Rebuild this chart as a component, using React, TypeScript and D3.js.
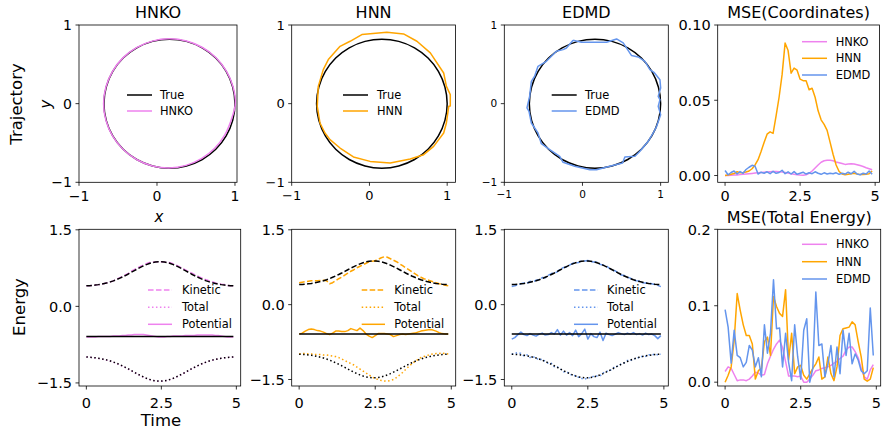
import React from "react";
import * as d3 from "d3";

// ---------------- DATA ----------------
const TIME = [0, 0.1, 0.2, 0.3, 0.4, 0.5, 0.6, 0.7, 0.8, 0.9, 1, 1.1, 1.2, 1.3, 1.4, 1.5, 1.6, 1.7, 1.8, 1.9, 2, 2.1, 2.2, 2.3, 2.4, 2.5, 2.6, 2.7, 2.8, 2.9, 3, 3.1, 3.2, 3.3, 3.4, 3.5, 3.6, 3.7, 3.8, 3.9, 4, 4.1, 4.2, 4.3, 4.4, 4.5, 4.6, 4.7, 4.8, 4.9];

const METHODS = ["HNKO", "HNN", "EDMD"];
const ENERGY_LABELS = ["Kinetic", "Total", "Potential"];
const TRAJ_TICKS = [-1, 0, 1];
const ENERGY_TICKS = [-1.5, 0, 1.5];
const TIME_TICKS = [0, 2.5, 5];
const MSE_COORD_TICKS = [0, 0.05, 0.1];
const MSE_ENERGY_TICKS = [0, 0.1, 0.2];

// Trajectories (x, y)
const TRUE_X = [1.0, 0.971, 0.887, 0.754, 0.58, 0.377, 0.16, -0.057, -0.26, -0.434, -0.567, -0.651, -0.68, -0.651, -0.567, -0.434, -0.26, -0.057, 0.16, 0.377, 0.58, 0.754, 0.887, 0.971];
const TRUE_Y = [0, 0.212, 0.41, 0.58, 0.71, 0.792, 0.82, 0.792, 0.71, 0.58, 0.41, 0.212, 0, -0.212, -0.41, -0.58, -0.71, -0.792, -0.82, -0.792, -0.71, -0.58, -0.41, -0.212];

const HNKO_X = [1.005, 0.975, 0.89, 0.757, 0.583, 0.378, 0.158, -0.06, -0.263, -0.437, -0.57, -0.655, -0.685, -0.655, -0.57, -0.436, -0.262, -0.058, 0.158, 0.372, 0.57, 0.74, 0.868, 0.952];
const HNKO_Y = [0, 0.214, 0.413, 0.584, 0.714, 0.796, 0.824, 0.795, 0.713, 0.582, 0.411, 0.212, 0, -0.212, -0.41, -0.58, -0.71, -0.792, -0.818, -0.785, -0.7, -0.568, -0.4, -0.207];

const HNN_X = [1.04, 0.99, 0.955, 0.783, 0.611, 0.439, 0.224, -0.098, -0.249, -0.378, -0.529, -0.594, -0.658, -0.671, -0.636, -0.572, -0.507, -0.378, -0.206, 0.009, 0.267, 0.525, 0.697, 0.826, 0.955, 0.99, 1.02, 1.04, 1.04];
const HNN_Y = [0.115, 0.22, 0.39, 0.645, 0.793, 0.887, 0.907, 0.878, 0.793, 0.729, 0.56, 0.433, 0.22, -0.034, -0.246, -0.373, -0.458, -0.564, -0.678, -0.734, -0.755, -0.704, -0.649, -0.543, -0.373, -0.246, -0.034, -0.03, 0.12];

const EDMD_X = [-0.12, -0.013, 0.136, 0.308, 0.436, 0.521, 0.628, 0.713, 0.799, 0.863, 0.914, 0.991, 1.0, 0.969, 0.991, 0.969, 1.0, 0.949, 0.905, 0.841, 0.735, 0.671, 0.542, 0.513, 0.35, 0.18, 0.094, -0.099, -0.248, -0.291, -0.419, -0.526, -0.569, -0.654, -0.684, -0.71, -0.676, -0.654, -0.612, -0.569, -0.462, -0.333, -0.248, -0.205, -0.12];
const EDMD_Y = [0.806, 0.78, 0.78, 0.78, 0.823, 0.772, 0.611, 0.594, 0.538, 0.433, 0.398, 0.305, 0.2, 0.093, 0.051, -0.034, -0.14, -0.288, -0.373, -0.479, -0.606, -0.67, -0.678, -0.755, -0.797, -0.84, -0.84, -0.797, -0.746, -0.67, -0.585, -0.509, -0.373, -0.246, -0.097, -0.055, 0.093, 0.284, 0.348, 0.475, 0.538, 0.666, 0.687, 0.708, 0.806];

// Energies
const KE_TRUE = [0.402, 0.406, 0.411, 0.418, 0.426, 0.436, 0.449, 0.463, 0.48, 0.5, 0.522, 0.548, 0.575, 0.604, 0.635, 0.668, 0.7, 0.733, 0.763, 0.792, 0.818, 0.84, 0.857, 0.868, 0.874, 0.874, 0.868, 0.857, 0.84, 0.818, 0.792, 0.763, 0.733, 0.7, 0.668, 0.635, 0.604, 0.575, 0.548, 0.522, 0.5, 0.48, 0.463, 0.449, 0.436, 0.426, 0.418, 0.411, 0.406, 0.402];
const TOT_TRUE = [-0.992, -0.996, -1.001, -1.008, -1.016, -1.026, -1.039, -1.053, -1.07, -1.09, -1.112, -1.138, -1.165, -1.194, -1.225, -1.258, -1.29, -1.323, -1.353, -1.382, -1.408, -1.43, -1.447, -1.458, -1.464, -1.464, -1.458, -1.447, -1.43, -1.408, -1.382, -1.353, -1.323, -1.29, -1.258, -1.225, -1.194, -1.165, -1.138, -1.112, -1.09, -1.07, -1.053, -1.039, -1.026, -1.016, -1.008, -1.001, -0.996, -0.992];
const POT_TRUE = [-0.59, -0.59, -0.59, -0.59, -0.59, -0.59, -0.59, -0.59, -0.59, -0.59, -0.59, -0.59, -0.59, -0.59, -0.59, -0.59, -0.59, -0.59, -0.59, -0.59, -0.59, -0.59, -0.59, -0.59, -0.59, -0.59, -0.59, -0.59, -0.59, -0.59, -0.59, -0.59, -0.59, -0.59, -0.59, -0.59, -0.59, -0.59, -0.59, -0.59, -0.59, -0.59, -0.59, -0.59, -0.59, -0.59, -0.59, -0.59, -0.59, -0.59];

const KE_HNKO = [0.402, 0.406, 0.411, 0.418, 0.426, 0.436, 0.449, 0.463, 0.48, 0.5, 0.532, 0.558, 0.585, 0.614, 0.645, 0.688, 0.72, 0.753, 0.783, 0.812, 0.838, 0.86, 0.862, 0.87, 0.874, 0.874, 0.868, 0.86, 0.855, 0.833, 0.807, 0.778, 0.748, 0.715, 0.683, 0.655, 0.624, 0.595, 0.568, 0.542, 0.52, 0.5, 0.483, 0.459, 0.446, 0.436, 0.428, 0.411, 0.406, 0.402];
const TOT_HNKO = [-0.99, -0.995, -1.002, -1.01, -1.019, -1.03, -1.043, -1.058, -1.075, -1.095, -1.118, -1.144, -1.171, -1.2, -1.231, -1.263, -1.295, -1.327, -1.357, -1.386, -1.411, -1.433, -1.45, -1.461, -1.467, -1.466, -1.46, -1.449, -1.432, -1.41, -1.385, -1.356, -1.326, -1.294, -1.262, -1.229, -1.197, -1.168, -1.14, -1.114, -1.092, -1.072, -1.055, -1.04, -1.027, -1.017, -1.009, -1.002, -0.997, -0.993];
const POT_HNKO = [-0.6, -0.6, -0.6, -0.6, -0.59, -0.59, -0.59, -0.59, -0.59, -0.58, -0.58, -0.58, -0.57, -0.57, -0.56, -0.56, -0.55, -0.55, -0.55, -0.55, -0.56, -0.57, -0.58, -0.59, -0.6, -0.6, -0.6, -0.59, -0.59, -0.58, -0.58, -0.58, -0.58, -0.57, -0.57, -0.57, -0.57, -0.56, -0.56, -0.56, -0.56, -0.56, -0.56, -0.57, -0.57, -0.58, -0.59, -0.6, -0.6, -0.6];

const KE_HNN = [0.44, 0.45, 0.46, 0.47, 0.48, 0.48, 0.48, 0.485, 0.49, 0.48, 0.42, 0.44, 0.48, 0.52, 0.55, 0.59, 0.63, 0.67, 0.7, 0.74, 0.77, 0.8, 0.83, 0.86, 0.87, 0.88, 0.91, 0.94, 0.96, 0.95, 0.92, 0.89, 0.86, 0.82, 0.78, 0.74, 0.7, 0.66, 0.62, 0.58, 0.55, 0.52, 0.5, 0.48, 0.46, 0.44, 0.42, 0.41, 0.39, 0.38];
const TOT_HNN = [-0.99, -0.98, -0.98, -0.99, -0.99, -1.0, -1.0, -1.0, -1.01, -1.01, -1.02, -1.03, -1.04, -1.06, -1.09, -1.12, -1.15, -1.18, -1.21, -1.25, -1.29, -1.33, -1.37, -1.41, -1.45, -1.48, -1.5, -1.52, -1.53, -1.53, -1.52, -1.5, -1.46, -1.41, -1.36, -1.3, -1.24, -1.19, -1.14, -1.1, -1.06, -1.04, -1.02, -1.0, -0.99, -0.98, -0.98, -0.97, -0.98, -0.99];
const POT_HNN = [-0.59, -0.57, -0.53, -0.5, -0.49, -0.5, -0.52, -0.53, -0.55, -0.58, -0.6, -0.57, -0.53, -0.53, -0.54, -0.54, -0.52, -0.48, -0.5, -0.52, -0.47, -0.52, -0.59, -0.63, -0.66, -0.62, -0.58, -0.58, -0.58, -0.59, -0.6, -0.64, -0.62, -0.6, -0.59, -0.6, -0.59, -0.58, -0.57, -0.55, -0.53, -0.52, -0.51, -0.5, -0.51, -0.53, -0.56, -0.58, -0.59, -0.59];

const KE_EDMD = [0.362, 0.376, 0.401, 0.418, 0.436, 0.426, 0.469, 0.453, 0.49, 0.5, 0.542, 0.538, 0.585, 0.624, 0.635, 0.658, 0.72, 0.743, 0.753, 0.792, 0.828, 0.84, 0.847, 0.878, 0.874, 0.884, 0.858, 0.857, 0.85, 0.808, 0.792, 0.783, 0.733, 0.69, 0.678, 0.635, 0.594, 0.585, 0.548, 0.532, 0.49, 0.48, 0.473, 0.439, 0.436, 0.436, 0.418, 0.401, 0.386, 0.362];
const TOT_EDMD = [-0.992, -0.976, -0.961, -0.978, -1.026, -1.006, -1.059, -1.043, -1.07, -1.11, -1.092, -1.138, -1.175, -1.174, -1.245, -1.248, -1.29, -1.343, -1.343, -1.382, -1.428, -1.42, -1.457, -1.478, -1.494, -1.464, -1.468, -1.427, -1.43, -1.428, -1.372, -1.333, -1.333, -1.29, -1.238, -1.235, -1.184, -1.165, -1.118, -1.122, -1.08, -1.09, -1.043, -1.039, -1.036, -1.006, -1.008, -0.991, -1.006, -0.992];
const POT_EDMD = [-0.69, -0.66, -0.6, -0.55, -0.6, -0.62, -0.58, -0.61, -0.63, -0.59, -0.57, -0.61, -0.6, -0.56, -0.59, -0.5, -0.61, -0.53, -0.61, -0.56, -0.62, -0.51, -0.64, -0.58, -0.49, -0.69, -0.58, -0.64, -0.66, -0.55, -0.72, -0.57, -0.6, -0.62, -0.59, -0.56, -0.58, -0.6, -0.57, -0.59, -0.56, -0.6, -0.58, -0.61, -0.57, -0.6, -0.59, -0.62, -0.68, -0.62];

// MSE (coordinates)
const MSE_COORD_HNKO = [0, 0.0001, 0.0002, 0.0003, 0.0004, 0.0006, 0.0008, 0.001, 0.0012, 0.0014, 0.0016, 0.0018, 0.002, 0.0022, 0.0024, 0.0025, 0.0026, 0.0026, 0.0025, 0.0024, 0.002, 0.0016, 0.0012, 0.0008, 0.0005, 0.0003, 0.0002, 0.0005, 0.0015, 0.003, 0.005, 0.007, 0.0088, 0.0098, 0.0101, 0.0101, 0.0098, 0.009, 0.0085, 0.008, 0.0074, 0.0076, 0.0078, 0.0076, 0.0072, 0.0066, 0.006, 0.0052, 0.0045, 0.0038];
const MSE_COORD_HNN = [0, 0.0004, 0.0008, 0.0013, 0.0025, 0.0018, 0.002, 0.0024, 0.003, 0.0045, 0.007, 0.0105, 0.016, 0.022, 0.0275, 0.029, 0.028, 0.0396, 0.052, 0.067, 0.088, 0.083, 0.068, 0.0714, 0.07, 0.064, 0.063, 0.063, 0.057, 0.058, 0.052, 0.043, 0.037, 0.034, 0.03, 0.022, 0.014, 0.007, 0.0027, 0.001, 0.0005, 0.0008, 0.0012, 0.0015, 0.001, 0.0006, 0.0006, 0.0009, 0.0012, 0.003];
const MSE_COORD_EDMD = [0.0033, 0.0005, 0.002, 0.003, 0.001, 0.0026, 0.0015, 0.004, 0.0055, 0.0068, 0.0062, 0.001, 0.0022, 0.0015, 0.0025, 0.0012, 0.0028, 0.0015, 0.002, 0.0035, 0.0012, 0.0025, 0.001, 0.0026, 0.0008, 0.0015, 0.0022, 0.001, 0.0018, 0.0012, 0.0025, 0.0015, 0.0008, 0.0018, 0.001, 0.0015, 0.0012, 0.0018, 0.0008, 0.0015, 0.001, 0.0022, 0.0012, 0.0028, 0.001, 0.0005, 0.0015, 0.001, 0.003, 0.0008];

// MSE (total energy)
const MSE_ENERGY_HNKO = [0.014, 0.02, 0.018, 0.01, 0.002, 0.003, 0.003, 0.002, 0.004, 0.008, 0.013, 0.012, 0.009, 0.01, 0.024, 0.034, 0.043, 0.05, 0.055, 0.045, 0.027, 0.008, 0.008, 0.008, 0.007, 0.008, 0.0, 0.0, 0.004, 0.009, 0.015, 0.016, 0.018, 0.019, 0.02, 0.022, 0.025, 0.027, 0.031, 0.034, 0.042, 0.046, 0.046, 0.04, 0.032, 0.018, 0.007, 0.004, 0.016, 0.023];
const MSE_ENERGY_HNN = [0, 0.009, 0.02, 0.055, 0.116, 0.094, 0.075, 0.061, 0.061, 0.05, 0.004, 0.015, 0.018, 0.053, 0.059, 0.035, 0.112, 0.099, 0.09, 0.086, 0.121, 0.029, 0.064, 0.011, 0.02, 0.022, 0.009, 0.004, 0.011, 0.018, 0.024, 0.033, 0.004, 0.007, 0.033, 0.011, 0.002, 0.02, 0.061, 0.07, 0.071, 0.072, 0.079, 0.075, 0.053, 0.033, 0.004, 0.0013, 0.004, 0.019];
const MSE_ENERGY_EDMD = [0.095, 0.072, 0.025, 0.068, 0.035, 0.032, 0.02, 0.026, 0.048, 0.042, 0.02, 0.032, 0.007, 0.075, 0.038, 0.064, 0.134, 0.07, 0.071, 0.02, 0.064, 0.026, 0.002, 0.075, 0.033, 0.004, 0.068, 0.083, 0.0, 0.018, 0.118, 0.048, 0.05, 0.007, 0.024, 0.048, 0.007, 0.046, 0.011, 0.068, 0.035, 0.064, 0.024, 0.037, 0.029, 0.015, 0.011, 0.015, 0.097, 0.035];

// ---------------- STYLE ----------------
const VIOLET = "#ee82ee";
const ORANGE = "#ffa500";
const BLUE = "#6495ed";
const COLORS = [VIOLET, ORANGE, BLUE];
const DASH = "5.55,2.4";
const DOT = "1.5,2.475";
const FONT = "DejaVu Sans, Verdana, sans-serif";

type Series = { xs: number[]; ys: number[]; color: string; dash?: string; curve?: any; width?: number };
type LegendRow = { label: string; color: string; dash?: string };
type PanelCfg = {
  left: number; right: number; top: number; bottom: number;
  xDomain: [number, number]; yDomain: [number, number];
  xTicks: number[]; yTicks: number[]; fmtX: (v: number) => string; fmtY: (v: number) => string;
  tickFont: number; xLabelGap: number;
  title?: string; series: Series[];
  legend: { x1: number; x2: number; tx: number; ys: number[]; rows: LegendRow[]; font: number };
};

function Panel({ c }: { c: PanelCfg }) {
  const x = d3.scaleLinear().domain(c.xDomain).range([c.left, c.right]);
  const y = d3.scaleLinear().domain(c.yDomain).range([c.bottom, c.top]);
  const cap = 0.73 * c.tickFont;
  return (
    <g>
      {c.series.map((s, i) => {
        const pts: [number, number][] = s.xs.map((v, k) => [v, s.ys[k]]);
        const line = d3.line<[number, number]>().x((d) => x(d[0])).y((d) => y(d[1])).curve(s.curve || d3.curveLinear);
        return (
          <path key={i} d={line(pts) || ""} fill="none" stroke={s.color} strokeWidth={s.width || 1.5}
            strokeDasharray={s.dash} strokeLinejoin="round" />
        );
      })}
      <rect x={c.left} y={c.top} width={c.right - c.left} height={c.bottom - c.top} fill="none" stroke="#000" strokeWidth={0.8} />
      {c.xTicks.map((v) => (
        <g key={"x" + v}>
          <line x1={x(v)} x2={x(v)} y1={c.bottom} y2={c.bottom + 3.5} stroke="#000" strokeWidth={0.8} />
          <text x={x(v)} y={c.bottom + c.xLabelGap + cap} textAnchor="middle" fontSize={c.tickFont} fontFamily={FONT}>{c.fmtX(v)}</text>
        </g>
      ))}
      {c.yTicks.map((v) => (
        <g key={"y" + v}>
          <line x1={c.left - 3.5} x2={c.left} y1={y(v)} y2={y(v)} stroke="#000" strokeWidth={0.8} />
          <text x={c.left - 7} y={y(v) + cap / 2} textAnchor="end" fontSize={c.tickFont} fontFamily={FONT}>{c.fmtY(v)}</text>
        </g>
      ))}
      {c.title && (
        <text x={(c.left + c.right) / 2} y={c.top - 6.7} textAnchor="middle" fontSize={16} fontFamily={FONT}>{c.title}</text>
      )}
      {c.legend.rows.map((r, i) => (
        <g key={"l" + i}>
          <line x1={c.legend.x1} x2={c.legend.x2} y1={c.legend.ys[i]} y2={c.legend.ys[i]} stroke={r.color} strokeWidth={1.5} strokeDasharray={r.dash} />
          <text x={c.legend.tx} y={c.legend.ys[i] + 0.365 * c.legend.font} fontSize={c.legend.font} fontFamily={FONT}>{r.label}</text>
        </g>
      ))}
    </g>
  );
}

const fmtInt = d3.format("d");
const fmtTime = (v: number) => d3.format("~g")(v);

export default function App() {
  const row1Top = 25, row1Bottom = 182.3, row2Top = 229.3, row2Bottom = 386;
  const trajX: [number, number][] = [[79, 237], [291.7, 455.5], [504.3, 668.3]];
  const trajXDom: [number, number][] = [[-1, 1.026], [-1, 1.107], [-1, 1.098]];
  const trajTickFont = [14, 13, 10.5];
  const trajLegend = [
    { x1: 127, x2: 152, tx: 160 },
    { x1: 343, x2: 368, tx: 377 },
    { x1: 551.7, x2: 576.7, tx: 585 },
  ];
  const predX = [HNKO_X, HNN_X, EDMD_X];
  const predY = [HNKO_Y, HNN_Y, EDMD_Y];
  const predCurve = [d3.curveCatmullRomClosed, d3.curveLinear, d3.curveLinear];

  const panels: PanelCfg[] = [];
  METHODS.forEach((m, i) => {
    panels.push({
      left: trajX[i][0], right: trajX[i][1], top: row1Top, bottom: row1Bottom,
      xDomain: trajXDom[i], yDomain: [-1, 1], xTicks: TRAJ_TICKS, yTicks: TRAJ_TICKS,
      fmtX: fmtInt, fmtY: fmtInt, tickFont: trajTickFont[i], xLabelGap: 8.5, title: m,
      series: [
        { xs: TRUE_X, ys: TRUE_Y, color: "#000", curve: d3.curveCatmullRomClosed },
        { xs: predX[i], ys: predY[i], color: COLORS[i], curve: predCurve[i] },
      ],
      legend: { ...trajLegend[i], ys: [95, 111], font: 11.4, rows: [{ label: "True", color: "#000" }, { label: m, color: COLORS[i] }] },
    });
  });
  panels.push({
    left: 717.7, right: 879.5, top: row1Top, bottom: row1Bottom,
    xDomain: [-0.245, 5.145], yDomain: [-0.0045, 0.1], xTicks: TIME_TICKS, yTicks: MSE_COORD_TICKS,
    fmtX: fmtTime, fmtY: d3.format(".2f"), tickFont: 14.5, xLabelGap: 8.5, title: "MSE(Coordinates)",
    series: [
      { xs: TIME, ys: MSE_COORD_HNKO, color: VIOLET },
      { xs: TIME, ys: MSE_COORD_HNN, color: ORANGE },
      { xs: TIME, ys: MSE_COORD_EDMD, color: BLUE },
    ],
    legend: { x1: 802, x2: 827, tx: 835.7, ys: [41.7, 58.3, 75], font: 11.4, rows: METHODS.map((m, i) => ({ label: m, color: COLORS[i] })) },
  });

  const enX: [number, number][] = [[79, 240.7], [291.7, 455.7], [504.3, 668.3]];
  const enYDom: [number, number][] = [[-1.56, 1.51], [-1.63, 1.51], [-1.63, 1.51]];
  const enLegend = [
    { x1: 148, x2: 172, tx: 182 },
    { x1: 361.7, x2: 385, tx: 394.3 },
    { x1: 574, x2: 598, tx: 607 },
  ];
  const KE = [KE_HNKO, KE_HNN, KE_EDMD];
  const TOT = [TOT_HNKO, TOT_HNN, TOT_EDMD];
  const POT = [POT_HNKO, POT_HNN, POT_EDMD];
  const dashes = [DASH, DOT, undefined];
  METHODS.forEach((m, i) => {
    panels.push({
      left: enX[i][0], right: enX[i][1], top: row2Top, bottom: row2Bottom,
      xDomain: [-0.245, 5.145], yDomain: enYDom[i], xTicks: TIME_TICKS, yTicks: ENERGY_TICKS,
      fmtX: fmtTime, fmtY: d3.format(".1f"), tickFont: 14.5, xLabelGap: 11,
      series: [
        { xs: TIME, ys: KE[i], color: COLORS[i], dash: DASH },
        { xs: TIME, ys: TOT[i], color: COLORS[i], dash: DOT },
        { xs: TIME, ys: POT[i], color: COLORS[i] },
        { xs: TIME, ys: KE_TRUE, color: "#000", dash: DASH },
        { xs: TIME, ys: TOT_TRUE, color: "#000", dash: DOT },
        { xs: TIME, ys: POT_TRUE, color: "#000" },
      ],
      legend: { ...enLegend[i], ys: [290, 307.3, 324.3], font: 11.4, rows: ENERGY_LABELS.map((l, k) => ({ label: l, color: COLORS[i], dash: dashes[k] })) },
    });
  });
  panels.push({
    left: 717.7, right: 880.7, top: row2Top, bottom: row2Bottom,
    xDomain: [-0.245, 5.145], yDomain: [-0.005, 0.2], xTicks: TIME_TICKS, yTicks: MSE_ENERGY_TICKS,
    fmtX: fmtTime, fmtY: d3.format(".1f"), tickFont: 14.5, xLabelGap: 11, title: "MSE(Total Energy)",
    series: [
      { xs: TIME, ys: MSE_ENERGY_HNKO, color: VIOLET },
      { xs: TIME, ys: MSE_ENERGY_HNN, color: ORANGE },
      { xs: TIME, ys: MSE_ENERGY_EDMD, color: BLUE },
    ],
    legend: { x1: 802, x2: 827, tx: 836, ys: [244.3, 261.7, 279], font: 11.4, rows: METHODS.map((m, i) => ({ label: m, color: COLORS[i] })) },
  });

  return (
    <svg width={883} height={432} style={{ position: "absolute", left: 0, top: 0, background: "#fff" }} fontFamily={FONT}>
      <rect x={0} y={0} width={883} height={432} fill="#fff" />
      {panels.map((p, i) => <Panel key={i} c={p} />)}
      <text transform="translate(22,104) rotate(-90)" textAnchor="middle" fontSize={16.5} fontFamily={FONT}>Trajectory</text>
      <text transform="translate(51,104) rotate(-90)" textAnchor="middle" fontSize={15} fontStyle="italic" fontFamily={FONT}>y</text>
      <text x={159} y={222} textAnchor="middle" fontSize={15} fontStyle="italic" fontFamily={FONT}>x</text>
      <text transform="translate(25,307) rotate(-90)" textAnchor="middle" fontSize={16.5} fontFamily={FONT}>Energy</text>
      <text x={161} y={426} textAnchor="middle" fontSize={16.5} fontFamily={FONT}>Time</text>
    </svg>
  );
}
